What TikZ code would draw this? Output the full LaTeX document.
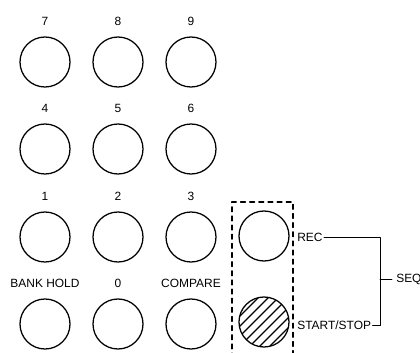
\documentclass[tikz,border=0pt]{standalone}
\usepackage{fontspec}
\setmainfont{Liberation Sans}
\usetikzlibrary{positioning}
\begin{document}
\begin{tikzpicture}[x=0.025cm,y=-0.025cm,line join=round,line cap=round]
	\tikzset{key/.style={draw,circle,line width=0.9pt,minimum size=1.25cm,inner sep=0pt},
		lbl/.style={font=\fontsize{8.5}{10}\selectfont,inner sep=0pt}}
	\useasboundingbox (0,0) rectangle (420,353);
	% keypad
	\foreach \x/\y/\t/\n in {45/62/7/k7,118/62/8/k8,191/62/9/k9,
		45/149/4/k4,118/149/5/k5,191/149/6/k6,
		45/237/1/k1,118/237/2/k2,191/237/3/k3,
		45/324/BANK HOLD/bank,118/324/0/k0,191/324/COMPARE/comp}
	{\node[key] (\n) at (\x,\y) {};
	 \node[lbl] (\n-l) at (\x,\y-41) {\t};}
	% sequence keys
	\node[key] (rec) at (264,236) {};
	\node[key] (stst) at (264,322) {};
	\begin{scope}[shift={(264,322)}]
		\clip (0,0) circle (25);
		\foreach \c in {-70,-60,...,70}
		\draw[line width=0.9pt] (\c-30,30)--(\c+30,-30);
	\end{scope}
	\draw[dashed,line width=0.8pt,dash pattern=on 3.5pt off 3pt] (232,358)--(232,202)--(293,202)--(293,358);
	\node[lbl,anchor=west] (rec-l) at (297,237) {REC};
	\node[lbl,anchor=west] (stst-l) at (297,325) {START/STOP};
	\node[lbl,anchor=west] (seq) at (396,279) {SEQ};
	\coordinate (bt) at (380,237);
	\coordinate (bb) at (380,325);
	\coordinate (bm) at (380,279);
	\draw[line width=0.7pt] ([xshift=1pt]rec-l.east)--(bt)--(bb)--([xshift=1pt]stst-l.east);
	\draw[line width=0.7pt] (bm)--([xshift=-3pt]seq.west);
\end{tikzpicture}
\end{document}
